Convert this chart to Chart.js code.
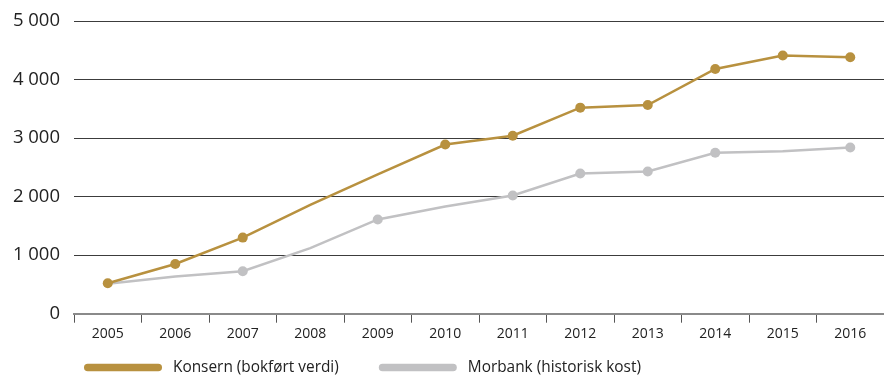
<!DOCTYPE html>
<html>
<head>
<meta charset="utf-8">
<script src="https://cdn.jsdelivr.net/npm/chart.js@4"></script>
<style>
  html, body { margin: 0; padding: 0; background: #fff; }
  #wrap { width: 884px; height: 376px; position: relative; }
</style>
</head>
<body>
<div id="wrap"><canvas id="c" width="884" height="376"></canvas></div>
<script>
// Years on the x axis
const years = ['2005','2006','2007','2008','2009','2010','2011','2012','2013','2014','2015','2016'];
// Konsern, bokført verdi (MNOK)
const konsern = [520, 850, 1300, 1860, 2380, 2890, 3040, 3520, 3565, 4180, 4410, 4380];
// Morbank, historisk kost (MNOK)
const morbank = [510, 635, 725, 1120, 1610, 1830, 2020, 2395, 2430, 2750, 2775, 2840];
// Y axis ticks
const yTicks = [0, 1000, 2000, 3000, 4000, 5000];
const seriesNames = ['Konsern (bokført verdi)', 'Morbank (historisk kost)'];

const GOLD = '#b8913f';
const GREY = '#c1c1c3';
const FONT = '"Open Sans", "DejaVu Sans", sans-serif';

// thousands separated by a space, e.g. 5 000
const fmt = v => String(v).replace(/\B(?=(\d{3})+(?!\d))/g, ' ');

// Legend drawn along the bottom edge: a rounded bar followed by the series name
const bottomLegend = {
  id: 'bottomLegend',
  afterDraw(chart) {
    const ctx = chart.ctx;
    const barW = 78, barH = 7.5, gap = 11, itemGap = 40;
    const y = 367.5;
    let x = 84;
    ctx.save();
    ctx.font = '15.4px ' + FONT;
    ctx.textBaseline = 'middle';
    chart.data.datasets.forEach(ds => {
      ctx.fillStyle = ds.borderColor;
      ctx.beginPath();
      ctx.roundRect(x, y - barH / 2, barW, barH, barH / 2);
      ctx.fill();
      ctx.fillStyle = '#222';
      const tx = x + barW + gap;
      ctx.fillText(ds.label, tx, y);
      x = tx + ctx.measureText(ds.label).width + itemGap;
    });
    ctx.restore();
  }
};

new Chart(document.getElementById('c'), {
  type: 'line',
  data: {
    labels: years,
    datasets: [
      {
        label: seriesNames[0],
        data: konsern,
        borderColor: GOLD,
        backgroundColor: GOLD,
        borderWidth: 2.5,
        pointRadius: [5, 5, 5, 0, 0, 5, 5, 5, 5, 5, 5, 5],
        pointBackgroundColor: GOLD,
        pointBorderWidth: 0,
        tension: 0
      },
      {
        label: seriesNames[1],
        data: morbank,
        borderColor: GREY,
        backgroundColor: GREY,
        borderWidth: 2.5,
        pointRadius: [0, 0, 5, 0, 5, 0, 5, 5, 5, 5, 0, 5],
        pointBackgroundColor: GREY,
        pointBorderWidth: 0,
        tension: 0
      }
    ]
  },
  plugins: [bottomLegend],
  options: {
    responsive: false,
    animation: false,
    layout: { autoPadding: false, padding: { left: 0, right: 0, top: 21, bottom: 30.5 } },
    plugins: {
      tooltip: { enabled: false },
      legend: { display: false }
    },
    scales: {
      x: {
        offset: true,
        afterFit: s => { s.paddingLeft = 0; s.paddingRight = 0; },
        grid: {
          offset: true,
          drawOnChartArea: false,
          drawTicks: true,
          tickLength: 9,
          tickColor: '#555',
          tickWidth: 1
        },
        border: { color: '#8a8a8a', width: 2 },
        ticks: {
          color: '#222',
          font: { family: FONT, size: 14 },
          padding: 3,
          maxRotation: 0,
          autoSkip: false
        }
      },
      y: {
        min: 0,
        max: 5000,
        afterFit: s => { s.width = 74; s.paddingTop = 0; s.paddingBottom = 0; },
        afterBuildTicks: s => { s.ticks = yTicks.map(v => ({ value: v })); },
        grid: {
          color: ctx => ctx.tick && ctx.tick.value === 0 ? 'rgba(0,0,0,0)' : '#3c3c3c',
          lineWidth: 1,
          drawTicks: false
        },
        border: { display: false },
        ticks: {
          color: '#222',
          font: { family: FONT, size: 18.5 },
          padding: 14,
          callback: v => fmt(v)
        }
      }
    }
  }
});
</script>
</body>
</html>
